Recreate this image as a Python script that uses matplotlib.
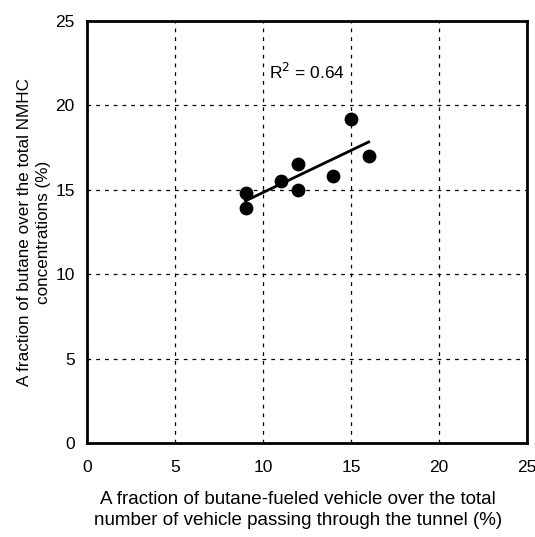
import matplotlib.pyplot as plt
import numpy as np

plt.rcParams['font.family'] = ['Liberation Sans', 'DejaVu Sans']

# butane-fueled vehicle fraction (%) vs butane fraction of NMHC (%)
vehicle_frac = np.array([9, 9, 11, 12, 12, 14, 15, 16])
butane_frac = np.array([14.8, 13.9, 15.5, 16.5, 15.0, 15.8, 19.2, 17.0])
r2_text = "R$^2$ = 0.64"

fig = plt.figure(figsize=(5.35, 5.37), dpi=100)
ax = fig.add_axes([0.163, 0.175, 0.822, 0.786])

ax.scatter(vehicle_frac, butane_frac, s=80, color="black", zorder=3)

# linear fit over the range of the data
slope, icpt = np.polyfit(vehicle_frac, butane_frac, 1)
xf = np.array([vehicle_frac.min(), vehicle_frac.max()])
ax.plot(xf, slope*xf + icpt, color="black", linewidth=2, zorder=3)

ax.text(12.5, 22.0, r2_text, fontsize=12.5, ha="center", va="center")

ax.set_xlim(0, 25)
ax.set_ylim(0, 25)
ax.set_xticks(np.arange(0, 26, 5))
ax.set_yticks(np.arange(0, 26, 5))

ax.grid(True, color="black", linestyle=(0, (3, 4)), linewidth=0.9)
ax.tick_params(length=0, labelsize=12.5)
ax.tick_params(axis="x", pad=12)
ax.tick_params(axis="y", pad=9)
for s in ax.spines.values():
    s.set_linewidth(2)

ax.set_xlabel("A fraction of butane-fueled vehicle over the total\n"
              "number of vehicle passing through the tunnel (%)",
              fontsize=13.5, linespacing=1.35)
ax.xaxis.set_label_coords(0.48, -0.113)
ax.xaxis.label.set_va("top")
ax.set_ylabel("A fraction of butane over the total NMHC\nconcentrations (%)",
              fontsize=12.3, labelpad=3, linespacing=1.3)

fig.savefig("out.png", dpi=100)
